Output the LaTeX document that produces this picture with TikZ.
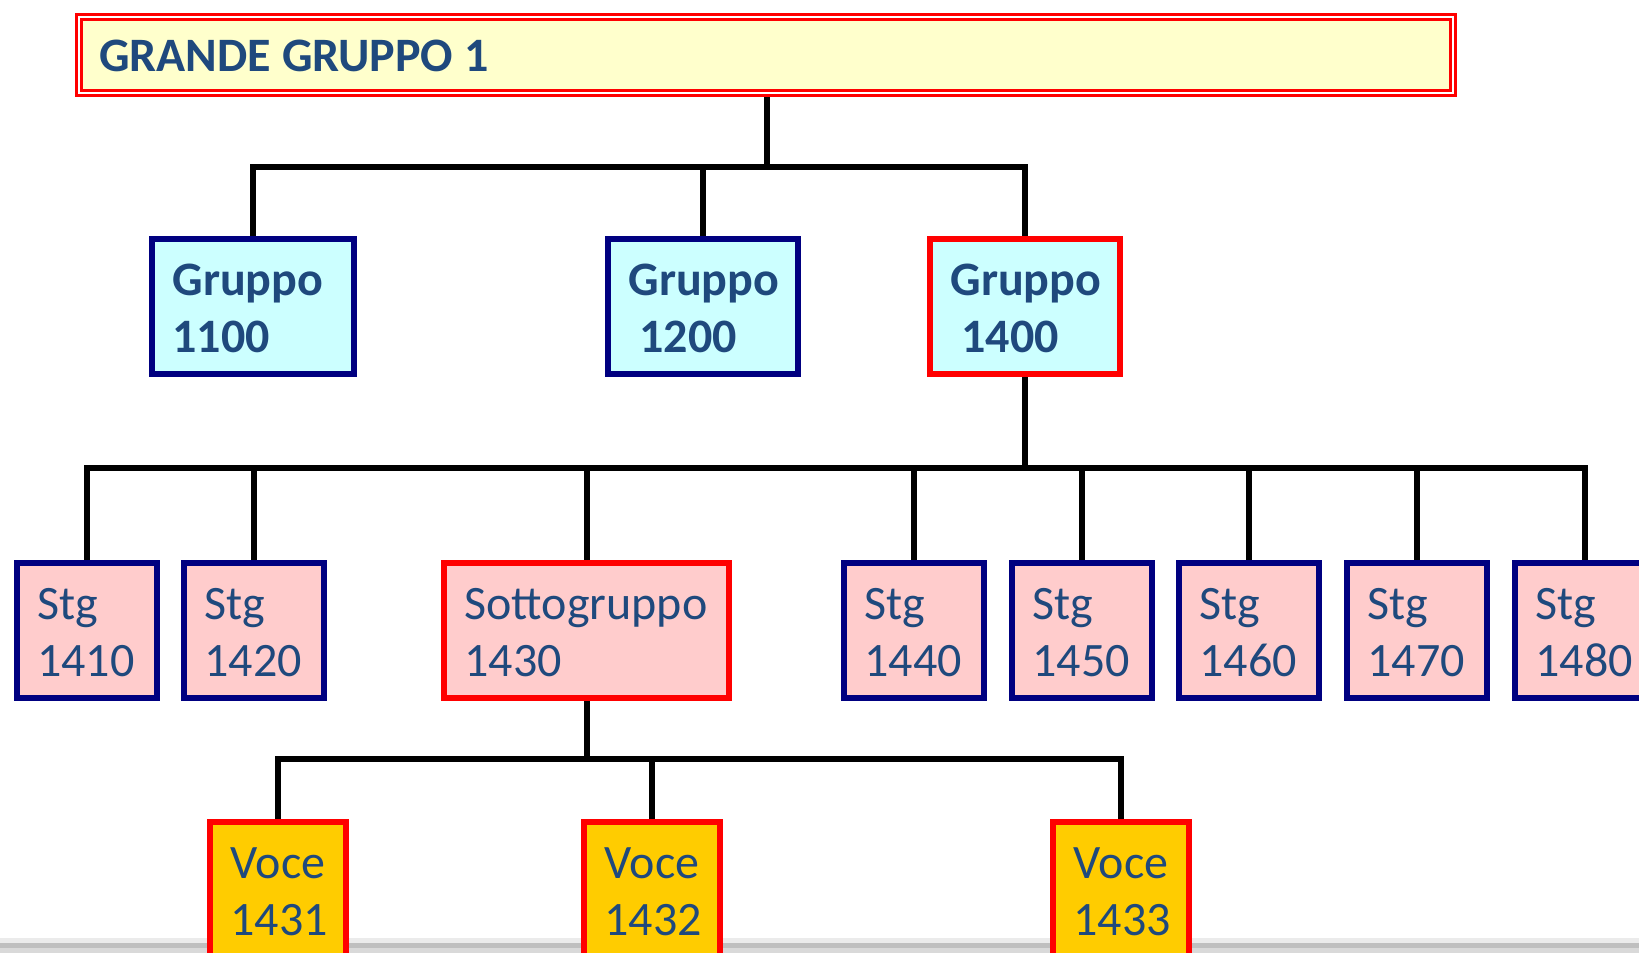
\documentclass[tikz,border=0pt]{standalone}
\usepackage{fontspec}
\setmainfont{Carlito}
\usetikzlibrary{backgrounds}
\definecolor{txt}{HTML}{1F497D}
\definecolor{navy}{HTML}{000080}
\definecolor{cyanfill}{HTML}{CCFFFF}
\definecolor{pinkfill}{HTML}{FFCCCC}
\definecolor{goldfill}{HTML}{FFCC00}
\definecolor{topfill}{HTML}{FFFFCC}
\newcommand\twoline[4]{\vbox to #2{\offinterlineskip\kern16pt\hbox to #1{\kern20.5pt\vrule height40pt depth12pt width0pt #3\hss}\kern5pt\hbox to #1{\kern20.5pt\vrule height40pt depth12pt width0pt #4\hss}\vss}}
\tikzset{
  boxbase/.style={rectangle, inner sep=0pt, line width=6pt, text=txt, font=\fontsize{48}{57}\selectfont},
  grpbox/.style={boxbase, fill=cyanfill, font=\fontsize{48}{57}\selectfont\bfseries},
  stgbox/.style={boxbase, fill=pinkfill},
  vocebox/.style={boxbase, fill=goldfill, draw=red},
  topbox/.style={rectangle, inner sep=0pt, draw=red, double=white, line width=3pt, double distance=2pt, fill=topfill, text=txt, font=\fontsize{48}{57}\selectfont\bfseries},
  conn/.style={line width=6pt, black, line join=miter}
}
\begin{document}
\begin{tikzpicture}[x=1pt,y=-1pt]
\useasboundingbox (0,0) rectangle (1639,953);

\node[topbox] (top) at (766.05,54.9) {\vbox to 76.8pt{\offinterlineskip\kern14.5pt\hbox to 1374.7pt{\kern20.5pt\vrule height40pt depth0pt width0pt GRANDE GRUPPO 1\hss}\vss}};

\node[grpbox, draw=navy] (g1100) at (253,306.5) {\twoline{202pt}{135pt}{Gruppo}{1100}};
\node[grpbox, draw=navy] (g1200) at (703,306.5) {\twoline{190pt}{135pt}{Gruppo}{\ 1200}};
\node[grpbox, draw=red]  (g1400) at (1025,306.5) {\twoline{190pt}{135pt}{Gruppo}{\ 1400}};

\node[stgbox, draw=navy] (s1410) at (86.5,630.5) {\twoline{140pt}{135pt}{Stg}{1410}};
\node[stgbox, draw=navy] (s1420) at (254,630.5) {\twoline{140pt}{135pt}{Stg}{1420}};
\node[stgbox, draw=red]  (s1430) at (586.5,630.5) {\twoline{285pt}{135pt}{Sottogruppo}{1430}};
\node[stgbox, draw=navy] (s1440) at (914,630.5) {\twoline{140pt}{135pt}{Stg}{1440}};
\node[stgbox, draw=navy] (s1450) at (1082,630.5) {\twoline{140pt}{135pt}{Stg}{1450}};
\node[stgbox, draw=navy] (s1460) at (1249,630.5) {\twoline{140pt}{135pt}{Stg}{1460}};
\node[stgbox, draw=navy] (s1470) at (1417,630.5) {\twoline{140pt}{135pt}{Stg}{1470}};
\node[stgbox, draw=navy] (s1480) at (1585,630.5) {\twoline{140pt}{135pt}{Stg}{1480}};

\node[vocebox] (v1431) at (278,889.5) {\twoline{136pt}{135pt}{Voce}{1431}};
\node[vocebox] (v1432) at (652,889.5) {\twoline{136pt}{135pt}{Voce}{1432}};
\node[vocebox] (v1433) at (1121,889.5) {\twoline{136pt}{135pt}{Voce}{1433}};

\coordinate (t0) at (767,93);
\coordinate (bus1) at (0,167);
\coordinate (bus2) at (0,468);
\coordinate (bus3) at (0,759);

\begin{scope}[on background layer]
% bottom band
\fill[black!8] (0,938) rectangle (1639,943);
\fill[black!25] (0,943) rectangle (1639,948);
\fill[black!15] (0,948) rectangle (1639,953);
\foreach \c in {g1100,g1200,g1400}
  \draw[conn] (t0) -- (t0 |- bus1) -| (\c.north);
\foreach \c in {s1410,s1420,s1430,s1440,s1450,s1460,s1470,s1480}
  \draw[conn] (g1400.south) -- (g1400.south |- bus2) -| (\c.north);
\foreach \c in {v1431,v1432,v1433}
  \draw[conn] (s1430.south) -- (s1430.south |- bus3) -| (\c.north);
\end{scope}
\end{tikzpicture}
\end{document}
